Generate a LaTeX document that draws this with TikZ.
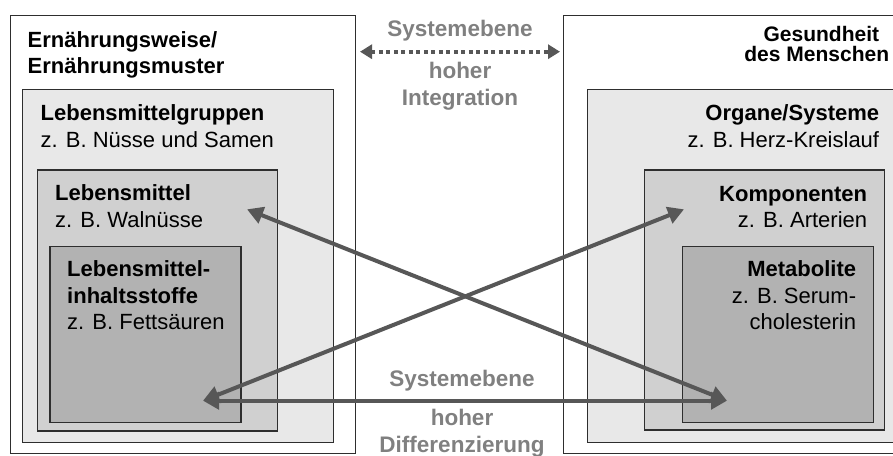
\documentclass[tikz,border=0pt]{standalone}
\usepackage{fontspec}
\setmainfont{Liberation Sans}
\usetikzlibrary{arrows.meta, positioning}

\definecolor{rim}{HTML}{2E2E2E}
\definecolor{fillA}{HTML}{E8E8E8}
\definecolor{fillB}{HTML}{D0D0D0}
\definecolor{fillC}{HTML}{B2B2B2}
\definecolor{arrowgray}{HTML}{575757}
\definecolor{levelgray}{HTML}{808080}

\tikzset{
  box/.style={draw=rim, line width=1.3pt, anchor=north west, inner sep=0pt},
  outerbox/.style={box, fill=white},
  groupbox/.style={box, fill=fillA},
  foodbox/.style={box, fill=fillB},
  partbox/.style={box, fill=fillC},
  txt/.style={inner sep=0pt, font=\fontsize{22pt}{26.5pt}\selectfont},
  txtL/.style={txt, align=left},
  txtR/.style={txt, align=right},
  levellbl/.style={inner sep=0pt, text=levelgray, align=center,
    font=\fontsize{22.5pt}{27pt}\selectfont\bfseries},
  bigarrow/.style={draw=arrowgray, line width=4pt,
    {Triangle[length=16pt, width=17pt]}-{Triangle[length=16pt, width=17pt]}},
  dotarrow/.style={draw=arrowgray, line width=4pt, dash pattern=on 4pt off 3.5pt,
    {Triangle[length=12pt, width=14pt]}-{Triangle[length=12pt, width=14pt]}}
}

\begin{document}
\begin{tikzpicture}[x=1pt, y=-1pt]
  \useasboundingbox (0,0) rectangle (893,455);
  \clip (0,0) rectangle (893,455);

  % left column: diet side
  \node[outerbox, minimum width=345pt, minimum height=438pt] (dietL) at (10,15) {};
  \node[groupbox, minimum width=311pt, minimum height=353pt] (groupL) at (22,89) {};
  \node[foodbox, minimum width=240pt, minimum height=261pt] (foodL) at (37,169.3) {};
  \node[partbox, minimum width=191pt, minimum height=176.3pt] (partL) at (49.3,245.7) {};

  \node[txtL, below right=16pt and 17.5pt of dietL.north west] (dietT)
    {\textbf{Ernährungsweise/}\\\textbf{Ernährungsmuster}};
  \node[txtL, below right=15.5pt and 18.5pt of groupL.north west] (groupT)
    {\textbf{Lebensmittelgruppen}\\z. B. Nüsse und Samen};
  \node[txtL, below right=15.5pt and 18pt of foodL.north west] (foodT)
    {\textbf{Lebensmittel}\\z. B. Walnüsse};
  \node[txtL, below right=15pt and 17.7pt of partL.north west] (partT)
    {\textbf{Lebensmittel-}\\\textbf{inhaltsstoffe}\\z. B. Fettsäuren};

  % right column: health side
  \node[outerbox, minimum width=346pt, minimum height=438pt] (healthR) at (563,15) {};
  \node[groupbox, minimum width=310pt, minimum height=353pt] (organR) at (587,89) {};
  \node[foodbox, minimum width=240pt, minimum height=260pt] (compR) at (644,169.3) {};
  \node[partbox, minimum width=191pt, minimum height=176.3pt] (metabR) at (682,245.7) {};

  \node[txtR, font=\fontsize{21pt}{19.5pt}\selectfont\bfseries,
    below left=11.5pt and 21pt of healthR.north east] (healthT)
    {Gesundheit\hspace*{10pt}\\des Menschen};
  \node[txtR, below left=15.5pt and 19pt of organR.north east] (organT)
    {\textbf{Organe/Systeme}\\z. B. Herz-Kreislauf};
  \node[txtR, below left=16.5pt and 18pt of compR.north east] (compT)
    {\textbf{Komponenten}\\z. B. Arterien};
  \node[txtR, below left=15pt and 18pt of metabR.north east] (metabT)
    {\textbf{Metabolite}\\z. B. Serum-\\cholesterin};

  % system levels in the middle
  \node[levellbl, anchor=base] (lvlTop) at (460,36.7) {Systemebene};
  \node[levellbl, anchor=north] (lvlTopB) at (460,62) {hoher\\Integration};
  \node[levellbl, anchor=base] (lvlBot) at (462,386.7) {Systemebene};
  \node[levellbl, anchor=north] (lvlBotB) at (462,409) {hoher\\Differenzierung};

  % arrow end points
  \coordinate (fettP) at (203,400.7);
  \coordinate (walP) at (247,209.3);
  \coordinate (serumP) at (727,400.7);
  \coordinate (artP) at (684,209.3);
  \coordinate (intL) at (360,51.7);
  \coordinate (intR) at (560,51.7);

  \draw[dotarrow] (intL) -- (intR);
  \draw[bigarrow] (fettP) -- (serumP);
  \draw[bigarrow] (fettP) -- (artP);
  \draw[bigarrow] (walP) -- (serumP);
\end{tikzpicture}
\end{document}
